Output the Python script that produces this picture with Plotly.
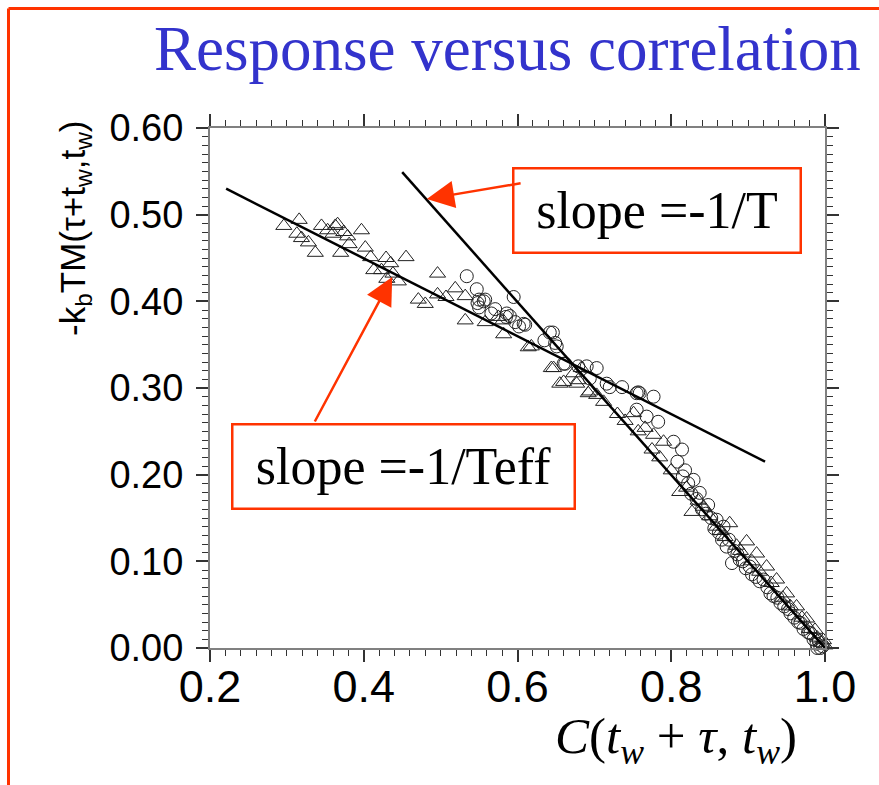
import plotly.graph_objects as go

W, H = 879, 785

# ---- data ----
tri_x = [0.296, 0.316, 0.313, 0.319, 0.328, 0.337, 0.345, 0.353, 0.363, 0.366, 0.360, 0.370,
         0.374, 0.379, 0.381, 0.397, 0.402, 0.409, 0.413, 0.423, 0.429, 0.435, 0.430, 0.438,
         0.445, 0.455, 0.471, 0.480, 0.496, 0.496, 0.507, 0.519, 0.532, 0.532, 0.558, 0.575,
         0.581, 0.582, 0.614, 0.618, 0.644, 0.647, 0.660, 0.673, 0.679, 0.683, 0.692, 0.694,
         0.655, 0.677, 0.703, 0.712, 0.730, 0.740, 0.751, 0.757, 0.766, 0.777, 0.775, 0.785,
         0.790, 0.800, 0.811, 0.820, 0.827, 0.835, 0.842, 0.850, 0.859, 0.865, 0.870, 0.876,
         0.885, 0.890, 0.898, 0.905, 0.911, 0.915, 0.924, 0.930, 0.937, 0.945, 0.950, 0.955,
         0.963, 0.970, 0.976, 0.980, 0.987, 0.990, 0.995, 0.998, 1.000]
tri_y = [0.487, 0.494, 0.478, 0.473, 0.468, 0.456, 0.487, 0.482, 0.487, 0.489, 0.478, 0.456,
         0.480, 0.475, 0.466, 0.482, 0.462, 0.451, 0.436, 0.436, 0.450, 0.444, 0.426, 0.432,
         0.423, 0.451, 0.402, 0.397, 0.432, 0.408, 0.405, 0.415, 0.406, 0.378, 0.376, 0.382,
         0.378, 0.362, 0.347, 0.348, 0.323, 0.323, 0.307, 0.317, 0.309, 0.323, 0.294, 0.296,
         0.305, 0.305, 0.292, 0.284, 0.270, 0.262, 0.271, 0.250, 0.254, 0.246, 0.229, 0.220,
         0.238, 0.205, 0.180, 0.185, 0.157, 0.170, 0.163, 0.152, 0.140, 0.135, 0.128, 0.144,
         0.118, 0.112, 0.123, 0.100, 0.109, 0.088, 0.094, 0.075, 0.079, 0.058, 0.063, 0.048,
         0.048, 0.035, 0.034, 0.022, 0.021, 0.012, 0.006, 0.009, 0.003]

circ_x = [0.534, 0.547, 0.550, 0.558, 0.550, 0.571, 0.590, 0.597, 0.610, 0.595, 0.586, 0.608,
          0.548, 0.556, 0.566, 0.585, 0.602, 0.635, 0.646, 0.651, 0.642, 0.649, 0.660, 0.662,
          0.679, 0.690, 0.703, 0.694, 0.716, 0.720, 0.736, 0.755, 0.757, 0.777, 0.759, 0.755,
          0.768, 0.783, 0.803, 0.814, 0.818, 0.829, 0.837, 0.848, 0.859, 0.868, 0.872, 0.879,
          0.889, 0.902, 0.920, 0.929, 0.942, 0.955, 0.968, 0.981, 0.989, 0.994,
          0.808, 0.815, 0.822, 0.826, 0.833, 0.840, 0.845, 0.852, 0.856, 0.862, 0.866, 0.875,
          0.882, 0.886, 0.893, 0.897, 0.905, 0.910, 0.915, 0.925, 0.933, 0.938, 0.947, 0.952,
          0.960, 0.965, 0.972, 0.978, 0.985, 0.992, 0.997, 0.990]
circ_y = [0.429, 0.414, 0.402, 0.402, 0.393, 0.391, 0.383, 0.376, 0.373, 0.405, 0.386, 0.374,
          0.398, 0.400, 0.386, 0.382, 0.371, 0.355, 0.364, 0.348, 0.364, 0.352, 0.328, 0.328,
          0.325, 0.325, 0.323, 0.311, 0.305, 0.301, 0.301, 0.294, 0.295, 0.290, 0.294, 0.275,
          0.267, 0.261, 0.238, 0.229, 0.205, 0.194, 0.179, 0.165, 0.148, 0.140, 0.117, 0.098,
          0.102, 0.094, 0.079, 0.063, 0.052, 0.040, 0.029, 0.017, 0.005, 0.000,
          0.215, 0.198, 0.190, 0.178, 0.172, 0.160, 0.155, 0.150, 0.138, 0.133, 0.125, 0.125,
          0.112, 0.108, 0.100, 0.092, 0.085, 0.082, 0.077, 0.070, 0.060, 0.058, 0.048, 0.045,
          0.035, 0.030, 0.022, 0.018, 0.010, 0.008, 0.002, 0.000]

# fitted lines: slope -1/Teff and slope -1/T
teff_x = [0.221, 0.922]
teff_y = [0.530, 0.215]
t_x = [0.450, 1.000]
t_y = [0.549, 0.000]

x_ticks = [0.2, 0.4, 0.6, 0.8, 1.0]
y_ticks = [0.0, 0.1, 0.2, 0.3, 0.4, 0.5, 0.6]

RED = "#FF3300"

fig = go.Figure()
fig.add_trace(go.Scatter(x=tri_x, y=tri_y, mode="markers", cliponaxis=False,
                         marker=dict(symbol="triangle-up-open", size=14, color="#222222",
                                     line=dict(width=1))))
fig.add_trace(go.Scatter(x=circ_x, y=circ_y, mode="markers", cliponaxis=False,
                         marker=dict(symbol="circle-open", size=13, color="#222222",
                                     line=dict(width=1))))
fig.add_trace(go.Scatter(x=teff_x, y=teff_y, mode="lines", line=dict(color="black", width=2.5)))
fig.add_trace(go.Scatter(x=t_x, y=t_y, mode="lines", line=dict(color="black", width=2.5)))

axis_common = dict(showgrid=False, zeroline=False, showline=True, linecolor="#808080",
                   linewidth=2, mirror="allticks", ticks="outside", ticklen=12, tickwidth=1.5,
                   tickcolor="#333333", automargin=False)

fig.update_xaxes(range=[0.2, 1.0], domain=[210 / W, 825 / W], tickvals=x_ticks,
                 ticktext=[f"{v:.1f}" for v in x_ticks], ticklabelstandoff=-14,
                 tickfont=dict(family="Liberation Sans", size=45, color="black"),
                 minor=dict(ticks="outside", ticklen=6, dtick=0.02, tick0=0.2,
                            tickcolor="#333333", tickwidth=1),
                 **axis_common)
fig.update_yaxes(range=[0.0, 0.6], domain=[(H - 648) / H, (H - 128) / H], tickvals=y_ticks,
                 ticktext=[f"{v:.2f}" for v in y_ticks], ticklabelstandoff=5,
                 tickfont=dict(family="Liberation Sans", size=38, color="black"),
                 minor=dict(ticks="outside", ticklen=6, dtick=0.01, tick0=0.0,
                            tickcolor="#333333", tickwidth=1),
                 **axis_common)

annotations = [
    dict(text="Response versus correlation", xref="paper", yref="paper",
         x=507 / W, y=1 - 49 / H, xanchor="center", yanchor="middle", showarrow=False,
         font=dict(family="Liberation Serif", size=63, color="#3333CC")),
    dict(text="-k<sub>b</sub>TM(τ+t<sub>w</sub>,t<sub>w</sub>)", xref="paper", yref="paper",
         x=75 / W, y=1 - 228 / H, xanchor="center", yanchor="middle", showarrow=False,
         textangle=-90, font=dict(family="Liberation Sans", size=35, color="black")),
    dict(text="<i>C</i>(<i>t</i><sub><i>w</i></sub> + <i>τ</i>, <i>t</i><sub><i>w</i></sub>)",
         xref="paper", yref="paper", x=676 / W, y=1 - 740 / H, xanchor="center",
         yanchor="middle", showarrow=False,
         font=dict(family="Liberation Serif", size=51, color="black")),
    dict(text="slope =-1/T", xref="x", yref="y", x=0.7815, y=0.5048, xanchor="center",
         yanchor="middle", showarrow=False, width=283, height=80, borderpad=1,
         borderwidth=2.5, bordercolor=RED, bgcolor="white",
         font=dict(family="Liberation Serif", size=52, color="black")),
    dict(text="slope =-1/Teff", xref="x", yref="y", x=0.4517, y=0.2094, xanchor="center",
         yanchor="middle", showarrow=False, width=338, height=80, borderpad=1,
         borderwidth=2.5, bordercolor=RED, bgcolor="white",
         font=dict(family="Liberation Serif", size=52, color="black")),
    dict(text="", x=0.482, y=0.518, xref="x", yref="y", ax=0.606, ay=0.5365,
         axref="x", ayref="y", showarrow=True, arrowhead=2, arrowsize=2.2,
         arrowwidth=2.5, arrowcolor=RED),
    dict(text="", x=0.437, y=0.428, xref="x", yref="y", ax=0.3353, ay=0.2596,
         axref="x", ayref="y", showarrow=True, arrowhead=2, arrowsize=2.2,
         arrowwidth=2.5, arrowcolor=RED),
]

shapes = [
    dict(type="line", xref="paper", yref="paper", x0=8.5 / W, x1=8.5 / W, y0=0,
         y1=1 - 8.5 / H, line=dict(color=RED, width=3)),
    dict(type="line", xref="paper", yref="paper", x0=8.5 / W, x1=1, y0=1 - 8.5 / H,
         y1=1 - 8.5 / H, line=dict(color=RED, width=3)),
]

fig.update_layout(width=W, height=H,
                  margin=dict(l=0, r=0, t=0, b=0, pad=0, autoexpand=False), autosize=False,
                  paper_bgcolor="white", plot_bgcolor="white", showlegend=False,
                  annotations=annotations, shapes=shapes)

fig.write_html("out.html")
